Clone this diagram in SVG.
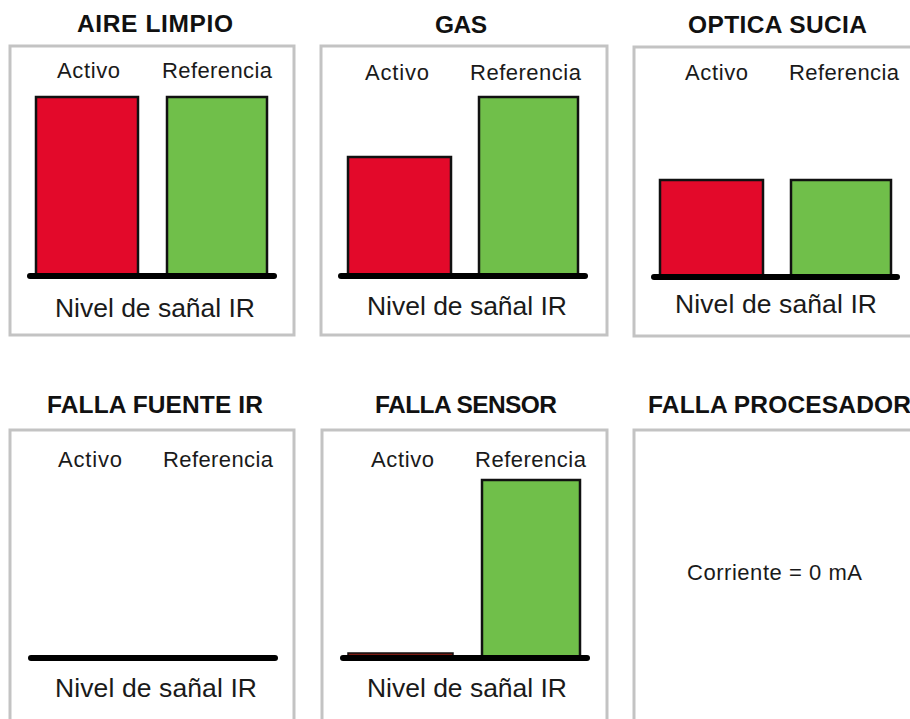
<svg xmlns="http://www.w3.org/2000/svg" width="910" height="719" viewBox="0 0 910 719">
<style>
.bg{fill:#ffffff}
.box{fill:#ffffff;stroke:#c3c3c3;stroke-width:3}
.title{font-family:"Liberation Sans",Arial,sans-serif;font-weight:bold;font-size:24.5px;fill:#111111}
.lbl{font-family:"Liberation Sans",Arial,sans-serif;font-size:22px;fill:#1a1a1a}
.axis{font-family:"Liberation Sans",Arial,sans-serif;font-size:26.5px;fill:#1a1a1a}
.red{fill:#e3092a;stroke:#111111;stroke-width:2.5}
.green{fill:#70bf4a;stroke:#111111;stroke-width:2.5}
.dred{fill:#7a1a12;stroke:#111111;stroke-width:1.5}
.base{stroke:#000000;stroke-width:6;stroke-linecap:round}
</style>
<rect class="bg" x="0" y="0" width="910" height="719"/>

<g id="aire-limpio">
<text class="title" x="155" y="32" text-anchor="middle" textLength="156">AIRE LIMPIO</text>
<rect class="box" x="10" y="46" width="284" height="289"/>
<text class="lbl" x="57" y="78" textLength="63">Activo</text>
<text class="lbl" x="162" y="78" textLength="110">Referencia</text>
<rect class="red" x="36" y="97" width="102" height="178"/>
<rect class="green" x="167" y="97" width="100" height="178"/>
<line class="base" x1="30" y1="276" x2="274" y2="276"/>
<text class="axis" x="55" y="317" textLength="200">Nivel de sañal IR</text>
</g>

<g id="gas">
<text class="title" x="461" y="33" text-anchor="middle" textLength="52">GAS</text>
<rect class="box" x="321" y="46" width="286" height="289"/>
<text class="lbl" x="365" y="80" textLength="64">Activo</text>
<text class="lbl" x="470" y="80" textLength="111">Referencia</text>
<rect class="red" x="348" y="157" width="103" height="118"/>
<rect class="green" x="479" y="97" width="99" height="178"/>
<line class="base" x1="341" y1="276" x2="585" y2="276"/>
<text class="axis" x="367" y="315" textLength="200">Nivel de sañal IR</text>
</g>

<g id="optica-sucia">
<text class="title" x="777.5" y="33" text-anchor="middle" textLength="179">OPTICA SUCIA</text>
<rect class="box" x="634" y="47" width="300" height="289"/>
<text class="lbl" x="685" y="80" textLength="63">Activo</text>
<text class="lbl" x="789" y="80" textLength="110">Referencia</text>
<rect class="red" x="660" y="180" width="103" height="96"/>
<rect class="green" x="791" y="180" width="100" height="96"/>
<line class="base" x1="654" y1="277" x2="897" y2="277"/>
<text class="axis" x="675" y="313" textLength="202">Nivel de sañal IR</text>
</g>

<g id="falla-fuente-ir">
<text class="title" x="155" y="413" text-anchor="middle" textLength="216">FALLA FUENTE IR</text>
<rect class="box" x="10" y="430" width="284" height="300"/>
<text class="lbl" x="58" y="467" textLength="64">Activo</text>
<text class="lbl" x="163" y="467" textLength="110">Referencia</text>
<line class="base" x1="31" y1="658" x2="275" y2="658"/>
<text class="axis" x="55" y="697" textLength="202">Nivel de sañal IR</text>
</g>

<g id="falla-sensor">
<text class="title" x="466" y="413" text-anchor="middle" textLength="182">FALLA SENSOR</text>
<rect class="box" x="322" y="430" width="285" height="300"/>
<text class="lbl" x="371" y="467" textLength="63">Activo</text>
<text class="lbl" x="475" y="467" textLength="111">Referencia</text>
<rect class="dred" x="348" y="653" width="105" height="3"/>
<rect class="green" x="482" y="480" width="98" height="177"/>
<line class="base" x1="343" y1="658" x2="587" y2="658"/>
<text class="axis" x="367" y="697" textLength="200">Nivel de sañal IR</text>
</g>

<g id="falla-procesador">
<text class="title" x="648" y="413" textLength="263">FALLA PROCESADOR</text>
<rect class="box" x="634" y="430" width="300" height="300"/>
<text class="lbl" x="687" y="580" textLength="175">Corriente = 0 mA</text>
</g>

<g id="connectors"></g>
</svg>
